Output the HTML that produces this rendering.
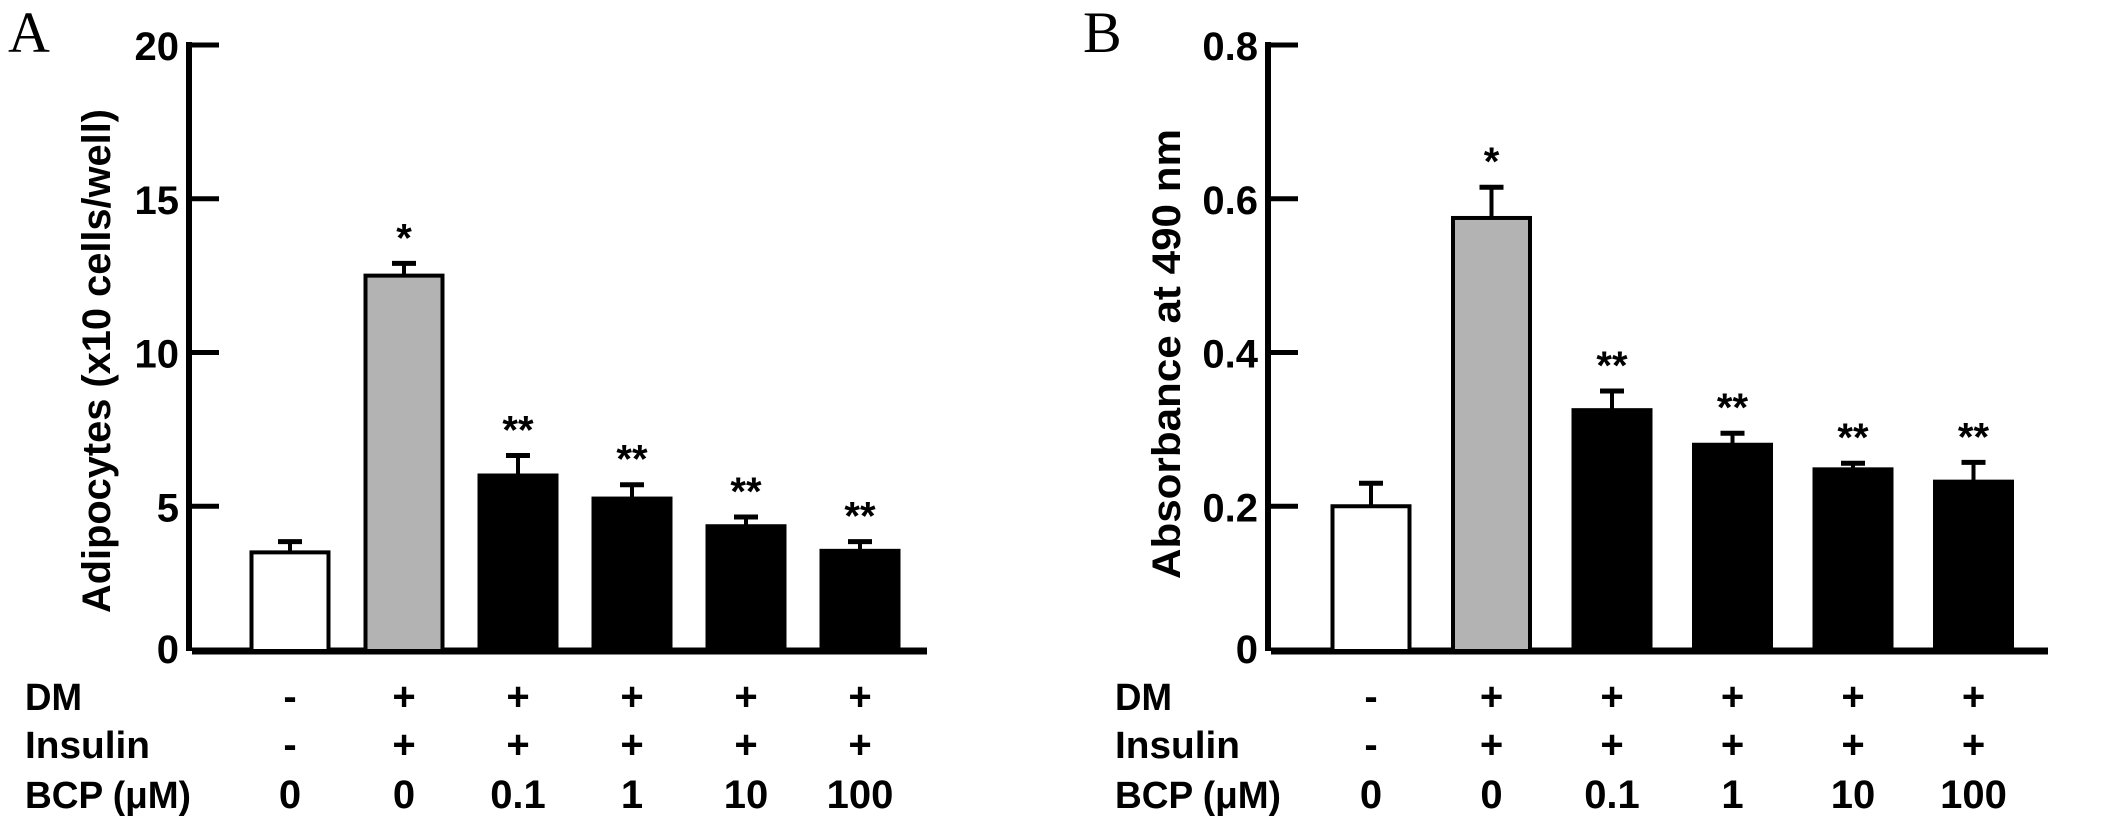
<!DOCTYPE html>
<html><head><meta charset="utf-8"><style>
html,body{margin:0;padding:0;background:#fff}
svg{display:block}
text{font-family:"Liberation Sans",Arial,sans-serif;font-weight:bold;fill:#000}
</style></head><body>
<svg id="fig" width="2126" height="835" viewBox="0 0 2126 835" xmlns="http://www.w3.org/2000/svg"></svg>
<script>
const categories = ["ctrl","DM+Ins","BCP 0.1","BCP 1","BCP 10","BCP 100"];
const dmRow = ["-","+","+","+","+","+"];
const insRow = ["-","+","+","+","+","+"];
const bcpRow = ["0","0","0.1","1","10","100"];
const valuesA = [3.5, 12.5, 6.0, 5.25, 4.35, 3.55];
const errorsA = [0.35, 0.4, 0.65, 0.45, 0.3, 0.3];
const valuesB = [0.2, 0.575, 0.325, 0.28, 0.248, 0.232];
const errorsB = [0.03, 0.04, 0.025, 0.015, 0.008, 0.025];
const starsLabels = ["", "*", "**", "**", "**", "**"];
const ticksA = [0, 5, 10, 15, 20];
const tickLabelsA = ["0","5","10","15","20"];
const ticksB = [0, 0.2, 0.4, 0.6, 0.8];
const tickLabelsB = ["0","0.2","0.4","0.6","0.8"];
const fills = ["#fff","#b3b3b3","#000","#000","#000","#000"];

const NS = "http://www.w3.org/2000/svg";
const svg = document.getElementById("fig");
function mk(tag, attrs, parent){
  const e = document.createElementNS(NS, tag);
  for (const k in attrs) e.setAttribute(k, attrs[k]);
  (parent||svg).appendChild(e);
  return e;
}
function panel(cfg){
  const g = mk("g", {});
  
  
  const y0 = 660, yTop = 45, base = 651;
  const yScale = v => y0 - (v / cfg.max) * (y0 - yTop);
  const xScale = i => cfg.x0 + i * cfg.step;
  const L = mk("text", {x: cfg.letterX, y: 52, "font-size": 58, style: "font-family:'Liberation Serif',serif;font-weight:normal"}, g);
  L.textContent = cfg.letter;
  
  
  const ax = mk("line", {x1: cfg.axisX, y1: yTop - 3, x2: cfg.axisX, y2: base, stroke: "#000", "stroke-width": 6}, g);
  
  
  const bl = mk("line", {x1: cfg.axisX + 3, y1: base, x2: cfg.baseEnd, y2: base, stroke: "#000", "stroke-width": 7}, g);
  
  
  cfg.ticks.forEach((t, i) => {
    const y = yScale(t);
    if (t !== 0) {
      const tk = mk("line", {x1: cfg.axisX, y1: y, x2: cfg.axisX + 30, y2: y, stroke: "#000", "stroke-width": 5}, g);
      
      
    }
    const tl = mk("text", {x: cfg.axisX - 10, y: y + 15 - (t === 0 ? 12 : 0), "font-size": 40, "text-anchor": "end"}, g);
    tl.textContent = cfg.tickLabels[i];
    
    
  });
  const yt = mk("text", {x: 0, y: 0, "font-size": 40, "text-anchor": "middle", textLength: cfg.titleLen, lengthAdjust: "spacingAndGlyphs", transform: `translate(${cfg.titleX},${cfg.titleY}) rotate(-90)`}, g);
  yt.textContent = cfg.title;
  
  
  const bw = 77;
  cfg.values.forEach((v, i) => {
    const cx = xScale(i);
    const top = yScale(v);
    const eTop = yScale(v + cfg.errors[i]);
    const el = mk("line", {x1: cx, y1: top, x2: cx, y2: eTop, stroke: "#000", "stroke-width": 4}, g);
    
    
    const ec = mk("line", {x1: cx - 12, y1: eTop, x2: cx + 12, y2: eTop, stroke: "#000", "stroke-width": 5}, g);
    
    
    const r = mk("rect", {x: cx - bw/2, y: top, width: bw, height: base - top, fill: fills[i], stroke: "#000", "stroke-width": 4}, g);
    
    
    if (starsLabels[i]) {
      const s = mk("text", {x: cx, y: eTop - 12, "font-size": 40, "text-anchor": "middle"}, g);
      s.textContent = starsLabels[i];
      
      
    }
    [[dmRow, 710], [insRow, 758], [bcpRow, 808]].forEach(([row, y]) => {
      const t = mk("text", {x: cx, y: y, "font-size": 40, "text-anchor": "middle"}, g);
      t.textContent = row[i];
      
      
    });
  });
  [["DM", 710, 57], ["Insulin", 758, 125], ["BCP (μM)", 808, 166]].forEach(([lab, y, w]) => {
    const t = mk("text", {x: cfg.rowLabelX, y: y, "font-size": 38, textLength: w, lengthAdjust: "spacingAndGlyphs"}, g);
    t.textContent = lab;
    
    
  });
}
panel({name: "panel-a", letter: "A", letterX: 8, axisX: 189, baseEnd: 927, x0: 290, step: 114,
  max: 20, ticks: ticksA, tickLabels: tickLabelsA, values: valuesA, errors: errorsA,
  title: "Adipocytes (x10 cells/well)", titleX: 110, titleY: 361, titleLen: 504, rowLabelX: 25});
panel({name: "panel-b", letter: "B", letterX: 1083, axisX: 1268, baseEnd: 2048, x0: 1371, step: 120.5,
  max: 0.8, ticks: ticksB, tickLabels: tickLabelsB, values: valuesB, errors: errorsB,
  title: "Absorbance at 490 nm", titleX: 1180, titleY: 354, titleLen: 450, rowLabelX: 1115});
</script>
</body></html>
